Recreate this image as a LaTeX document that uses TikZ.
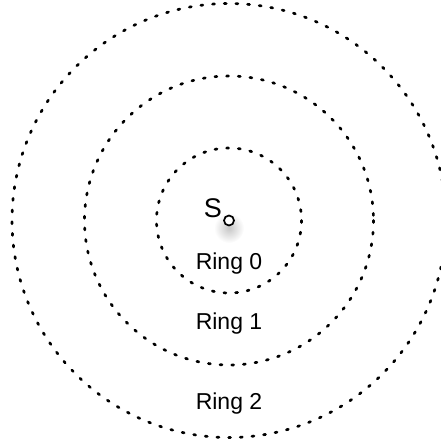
\documentclass[tikz,border=0pt]{standalone}
\usepackage{fontspec}
\setmainfont{Liberation Sans}
\usetikzlibrary{positioning}

\begin{document}
\begin{tikzpicture}[
    x=1pt, y=-1pt,
    ring/.style={draw, line width=2.7pt, line cap=round, dash pattern=on 2pt off 9.7pt},
    lbl/.style={font=\fontsize{23}{27}\selectfont, anchor=base, inner sep=0pt}
]
\useasboundingbox (0,0) rectangle (440,442);

% soft shadow under the source
\shade[inner color=black!22, outer color=white] (229,228) circle (15);

% Source
\coordinate (c) at (229,220.5);
\node[draw, circle, line width=1.7pt, minimum size=10pt, inner sep=0pt, fill=white] (src) at (c) {};
\node[font=\fontsize{27}{31}\selectfont, anchor=base, inner sep=0pt] (srcS) at (213,217) {S};

% Rings
\draw[ring] (c) circle (72.5);
\draw[ring] (c) circle (144.5);
\draw[ring] (c) circle (217);

% Labels
\node[lbl] (ring0) at (229,269) {Ring 0};
\node[lbl] (ring1) at (229,329) {Ring 1};
\node[lbl] (ring2) at (229,409) {Ring 2};

\end{tikzpicture}
\end{document}
